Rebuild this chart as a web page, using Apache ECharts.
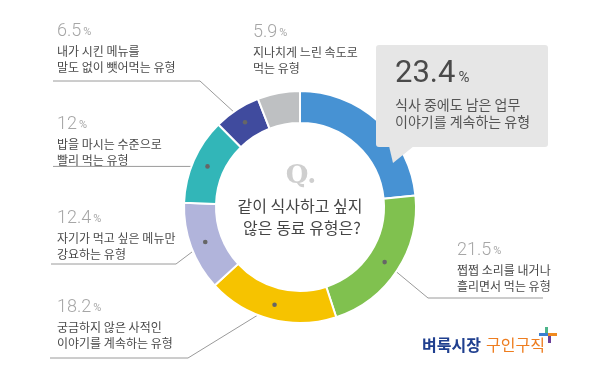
<!DOCTYPE html>
<html><head><meta charset="utf-8">
<script src="https://cdn.jsdelivr.net/npm/echarts@6/dist/echarts.min.js"></script>
<style>html,body{margin:0;padding:0;background:#fff}#c{width:600px;height:392px}</style>
</head><body><div id="c"></div>
<script>
// ---- data ----
const categories = [
  '식사 중에도 남은 업무\n이야기를 계속하는 유형',
  '쩝쩝 소리를 내거나\n흘리면서 먹는 유형',
  '궁금하지 않은 사적인\n이야기를 계속하는 유형',
  '자기가 먹고 싶은 메뉴만\n강요하는 유형',
  '밥을 마시는 수준으로\n빨리 먹는 유형',
  '내가 시킨 메뉴를\n말도 없이 뺏어먹는 유형',
  '지나치게 느린 속도로\n먹는 유형'
];
const values = [23.4, 21.5, 18.2, 12.4, 12, 6.5, 5.9];
const centerTitle = ['같이 식사하고 싶지', '않은 동료 유형은?'];

// ---- styles / layout ----
const colors = ['#4792d3', '#80c14f', '#f6c300', '#b1b4db', '#32b6b8', '#404b9e', '#bec0c2'];
const CX = 300, CY = 207, R0 = 84, R1 = 116, RDOT = 101;
// label top-left positions and the leader line points after the dot
const labelLayoutCfg = [
  {x: 376, y: 45, big: true, line: null},
  {x: 457, y: 238, line: [[428, 298], [543, 298]]},
  {x: 57, y: 295, line: [[188, 358], [50, 358]]},
  {x: 57, y: 206, line: [[176, 264], [51, 264]]},
  {x: 57, y: 112, line: 'h', end: 53},
  {x: 57, y: 19, line: [[200, 81], [53, 81]]},
  {x: 253, y: 20, line: null}
];

const total = values.reduce((a, b) => a + b, 0);
const dots = [];
let cum = 0;
values.forEach(v => {
  const mid = (cum + v / 2) / total * 2 * Math.PI;
  dots.push([CX + RDOT * Math.sin(mid), CY - RDOT * Math.cos(mid)]);
  cum += v;
});

const data = values.map((v, i) => {
  const cfg = labelLayoutCfg[i];
  const item = {value: v, name: categories[i], itemStyle: {color: colors[i]}};
  if (!cfg.line) item.labelLine = {show: false};
  if (cfg.big) {
    item.label = {
      backgroundColor: '#e6e6e6', borderRadius: 3,
      padding: [7, 10, 17, 19], width: 143, overflow: 'none'
    };
  }
  return item;
});

const chart = echarts.init(document.getElementById('c'), null, {renderer: 'canvas'});
const option = {
  animation: false,
  series: [{
    type: 'pie',
    center: [CX, CY],
    radius: [R0, R1],
    startAngle: 90,
    clockwise: true,
    avoidLabelOverlap: false,
    silent: true,
    itemStyle: {borderColor: '#fff', borderWidth: 2},
    emphasis: {disabled: true},
    label: {
      show: true,
      position: 'outside',
      overflow: 'none',
      formatter: p => {
        const i = p.dataIndex;
        const lines = categories[i].split('\n');
        if (labelLayoutCfg[i].big) {
          return `{V|${values[i]}}{P|%}\n` + lines.map(l => `{D|${l}}`).join('\n');
        }
        return `{v|${values[i]}}{p|%}\n` + lines.map(l => `{d|${l}}`).join('\n');
      },
      rich: {
        v: {fontSize: 18, fontFamily: 'Roboto', fontWeight: 300, color: '#a6a6a6', lineHeight: 24},
        p: {fontSize: 11, fontFamily: 'Roboto', color: '#a6a6a6', lineHeight: 24, padding: [3, 0, 0, 2]},
        d: {fontSize: 12, fontFamily: 'Noto Sans CJK KR', color: '#4a4a4a', lineHeight: 16},
        V: {fontSize: 31, fontFamily: 'Roboto', fontWeight: 400, color: '#4a4a4a', lineHeight: 44},
        P: {fontSize: 15, fontFamily: 'Roboto', color: '#4a4a4a', lineHeight: 44, padding: [8, 0, 0, 3]},
        D: {fontSize: 14, fontFamily: 'Noto Sans CJK KR', color: '#555', lineHeight: 17}
      }
    },
    labelLine: {show: true, length: 10, length2: 10, lineStyle: {color: '#9a9a9a', width: 1}},
    labelLayout: params => {
      const i = params.dataIndex;
      const cfg = labelLayoutCfg[i];
      const res = {x: cfg.x, y: cfg.y, align: 'left', verticalAlign: 'top'};
      if (cfg.line) {
        const d = dots[i];
        let pts;
        if (cfg.line === 'h') pts = [[d[0], d[1]], [cfg.end, d[1]]];
        else pts = [[d[0], d[1]]].concat(cfg.line);
        res.labelLinePoints = pts;
      }
      return res;
    },
    data: data
  }],
  graphic: [
    // callout pointer
    {type: 'polygon', z: 5, shape: {points: [[389, 146], [414, 146], [393, 163]]}, style: {fill: '#e6e6e6'}},
    // center question
    {type: 'text', z: 5, x: 301, y: 176, style: {text: 'Q.', font: 'bold 26px "DejaVu Serif"', fill: '#cfcfcf', align: 'center', verticalAlign: 'middle'}},
    {type: 'text', z: 5, x: 300, y: 206, style: {text: centerTitle[0], font: '16px "Noto Sans CJK KR"', fill: '#444', align: 'center', verticalAlign: 'middle'}},
    {type: 'text', z: 5, x: 302, y: 228, style: {text: centerTitle[1], font: '16px "Noto Sans CJK KR"', fill: '#444', align: 'center', verticalAlign: 'middle'}},
    // logo
    {type: 'text', z: 5, x: 422, y: 345, style: {text: '벼룩시장', font: 'bold 16px "Noto Sans CJK KR"', fill: '#1f3f8f', align: 'left', verticalAlign: 'middle'}},
    {type: 'text', z: 5, x: 486, y: 345, style: {text: '구인구직', font: '16px "Noto Sans CJK KR"', fill: '#ee7d1f', align: 'left', verticalAlign: 'middle'}},
    {type: 'rect', z: 5, shape: {x: 545, y: 327, width: 3, height: 8}, style: {fill: '#4db58a'}},
    {type: 'rect', z: 5, shape: {x: 548, y: 335, width: 3, height: 8}, style: {fill: '#6a3f99'}},
    {type: 'rect', z: 5, shape: {x: 539, y: 333, width: 9, height: 3}, style: {fill: '#3b7fd1'}},
    {type: 'rect', z: 5, shape: {x: 548, y: 333, width: 9, height: 3}, style: {fill: '#f08a1f'}}
  ].concat(dots.map((d, i) => labelLayoutCfg[i].line ? {
    type: 'circle', z: 10, shape: {cx: d[0], cy: d[1], r: 2.3}, style: {fill: '#666'}
  } : null).filter(Boolean))
};
chart.setOption(option);
</script>
</body></html>
